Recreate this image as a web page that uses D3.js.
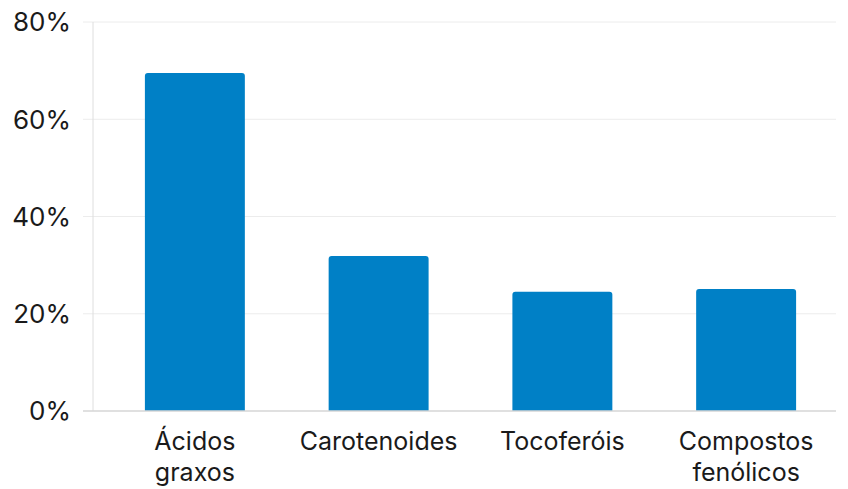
<!DOCTYPE html>
<html>
<head>
<meta charset="utf-8">
<script src="https://cdn.jsdelivr.net/npm/d3@7.9.0/dist/d3.min.js"></script>
<style>
  body { margin: 0; background: #fff; }
  svg text { font-family: Inter, "Open Sans", sans-serif; fill: #1a1a1a; }
</style>
</head>
<body>
<svg width="848" height="489"></svg>
<script>
// data
const categories = [["Ácidos", "graxos"], ["Carotenoides"], ["Tocoferóis"], ["Compostos", "fenólicos"]];
const values = [69.5, 31.9, 24.5, 25.1];
const yTicks = [0, 20, 40, 60, 80];

const svg = d3.select("svg");
const axisX = 93, plotTop = 22, plotBottom = 411, plotRight = 836;

const x = d3.scaleBand()
  .domain(d3.range(categories.length))
  .range([103, 838])
  .paddingInner(0.456)
  .paddingOuter(0.228);

const y = d3.scaleLinear().domain([0, 80]).range([plotBottom, plotTop]);

// gridlines
svg.append("g").selectAll("line")
  .data(yTicks.filter(d => d > 0))
  .join("line")
  .attr("x1", 83).attr("x2", plotRight)
  .attr("y1", d => y(d)).attr("y2", d => y(d))
  .attr("stroke", "#ececec").attr("stroke-width", 1);

// y axis line
svg.append("line")
  .attr("x1", axisX).attr("x2", axisX)
  .attr("y1", plotTop).attr("y2", plotBottom)
  .attr("stroke", "#dedede");

// tick labels
svg.append("g").selectAll("text")
  .data(yTicks)
  .join("text")
  .attr("x", 71)
  .attr("y", d => y(d))
  .attr("dy", "0.36em")
  .attr("text-anchor", "end")
  .attr("font-size", 26)
  .text(d => d + "%");

// bars, rounded top corners only
const r = 3;
svg.append("g").selectAll("path")
  .data(values)
  .join("path")
  .attr("fill", "#0080c6")
  .attr("d", (d, i) => {
    const x0 = x(i), x1 = x(i) + x.bandwidth(), y0 = y(d), y1 = y(0);
    return `M${x0},${y1}V${y0 + r}Q${x0},${y0} ${x0 + r},${y0}H${x1 - r}Q${x1},${y0} ${x1},${y0 + r}V${y1}Z`;
  });

// baseline
svg.append("line")
  .attr("x1", 83).attr("x2", plotRight)
  .attr("y1", plotBottom).attr("y2", plotBottom)
  .attr("stroke", "#d6d6d6").attr("stroke-width", 1.5);

// category labels
const lab = svg.append("g").selectAll("text")
  .data(categories)
  .join("text")
  .attr("text-anchor", "middle")
  .attr("font-size", 25)
  .attr("x", (d, i) => x(i) + x.bandwidth() / 2)
  .attr("y", 450);
lab.selectAll("tspan")
  .data(d => d)
  .join("tspan")
  .attr("x", function () { return this.parentNode.getAttribute("x"); })
  .attr("dy", (d, j) => j === 0 ? 0 : 31)
  .text(d => d);
</script>
</body>
</html>
